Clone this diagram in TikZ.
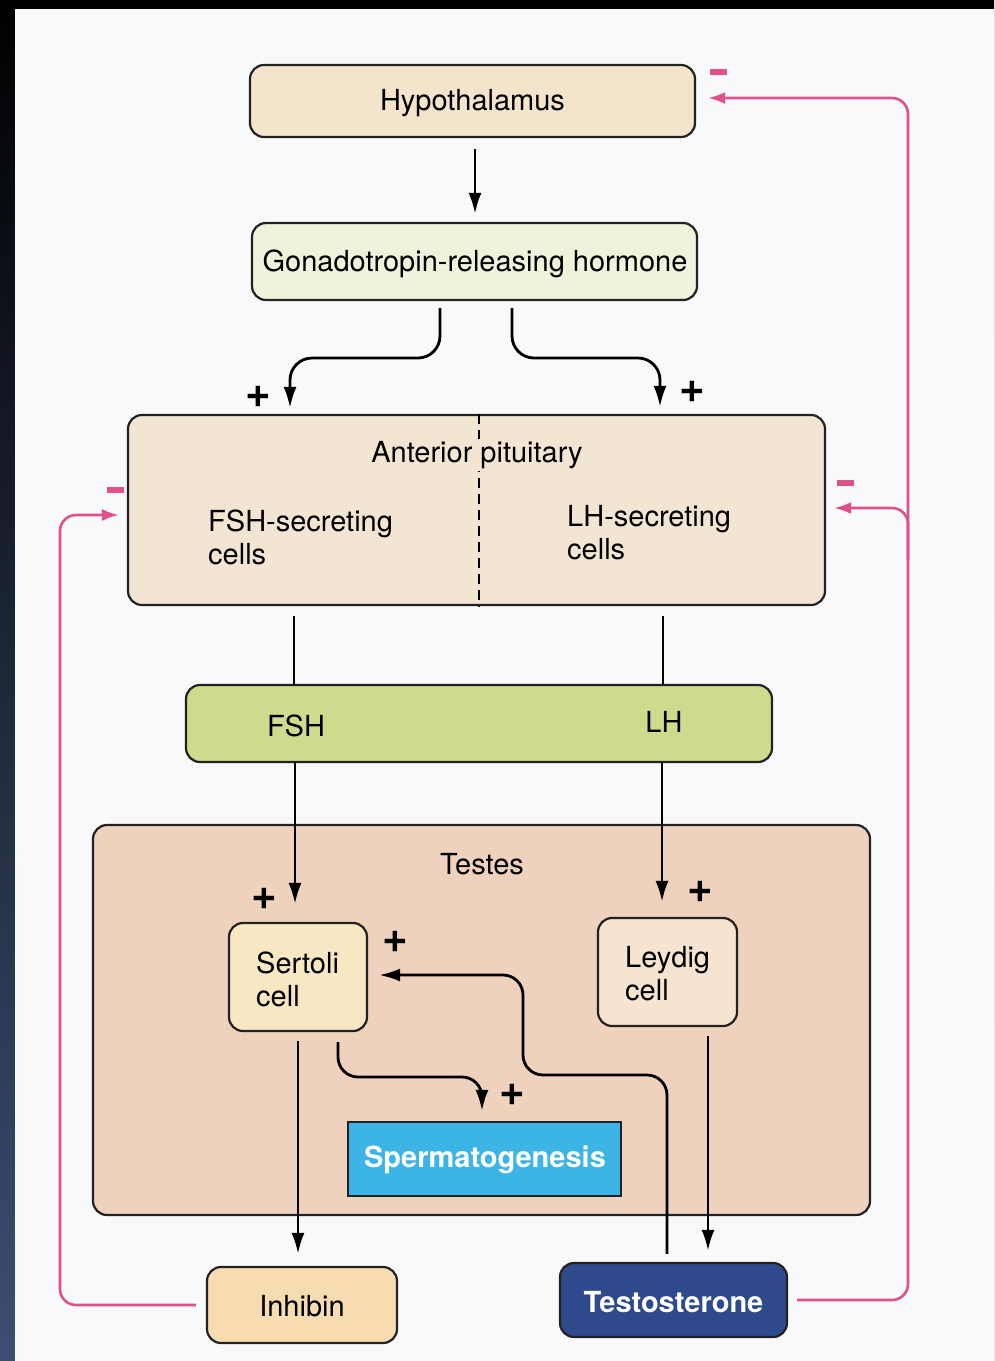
\documentclass[tikz,border=0pt]{standalone}
\usepackage{fontspec}
\setmainfont{TeX Gyre Heros}
\usetikzlibrary{arrows.meta,calc}
\definecolor{pagebg}{HTML}{F8F9FB}
\definecolor{navy}{HTML}{3A4F72}
\definecolor{hypfill}{HTML}{F4E4CC}
\definecolor{gnrhfill}{HTML}{EEF3DC}
\definecolor{pitfill}{HTML}{F2E6D3}
\definecolor{barfill}{HTML}{CDDB8C}
\definecolor{testfill}{HTML}{EFD2BE}
\definecolor{sertfill}{HTML}{F7E7C3}
\definecolor{leyfill}{HTML}{F7E4D0}
\definecolor{spermfill}{HTML}{3CB4E5}
\definecolor{inhfill}{HTML}{F6DCB0}
\definecolor{testofill}{HTML}{2E4A8C}
\definecolor{pinkline}{HTML}{E0508A}
\definecolor{edge}{HTML}{222222}
\tikzset{
  box/.style={draw=edge, line width=2.2pt, rounded corners=14pt, inner sep=0pt},
  lbl/.style={font=\fontsize{29}{33}\selectfont, inner sep=0pt, align=left},
  blbl/.style={font=\fontsize{29}{33}\selectfont\bfseries, text=white, inner sep=0pt},
  arr/.style={-{Latex[length=21pt,width=13pt]}, line width=2.8pt, draw=black},
  plain/.style={line width=2.8pt, draw=black},
  fb/.style={-{Latex[length=17pt,width=12pt]}, line width=2.6pt, draw=pinkline, rounded corners=16pt},
  plus/.style={font=\fontsize{44}{44}\selectfont\bfseries, inner sep=0pt},
  minus/.style={fill=pinkline, minimum width=17pt, minimum height=6pt, inner sep=0pt}
}
\begin{document}
\begin{tikzpicture}[x=1pt,y=-1pt]
\useasboundingbox (0,0) rectangle (994,1361);
\shade[top color=black, bottom color=navy] (0,0) rectangle (994,1361);
\fill[pagebg] (15,9) rectangle (994,1361);

% boxes
\node[box, fill=hypfill, minimum width=445pt, minimum height=72pt] (hyp) at (472.5,101) {};
\node[lbl] (hypt) at (472.5,103) {Hypothalamus};
\node[box, fill=gnrhfill, minimum width=445pt, minimum height=77pt] (gnrh) at (474.5,261.5) {};
\node[lbl] (gnrht) at (475,264) {Gonadotropin-releasing hormone};

\node[box, fill=pitfill, minimum width=697pt, minimum height=190pt] (pit) at (476.5,510) {};
\draw[line width=1.4pt, dash pattern=on 10pt off 6pt] (pit.north -| 479,0) -- (pit.south -| 479,0);
\node[lbl, fill=pitfill, inner sep=2pt] (pitt) at (477,455) {Anterior pituitary};
\node[lbl, anchor=west] (fshc) at (208,537) {FSH-secreting\\cells};
\node[lbl, anchor=west] (lhc) at (567,533) {LH-secreting\\cells};

\node[box, fill=barfill, minimum width=586pt, minimum height=77pt] (bar) at (479,723.5) {};
\node[lbl] (fsht) at (296,726) {FSH};
\node[lbl] (lht) at (664,722) {LH};

\node[box, fill=testfill, minimum width=777pt, minimum height=390pt] (testes) at (481.5,1020) {};
\node[lbl] (testt) at (482,864) {Testes};

\node[box, fill=sertfill, minimum width=138pt, minimum height=108pt] (sert) at (298,977) {};
\node[lbl, anchor=west] (sertt) at (256,979.5) {Sertoli\\cell};
\node[box, fill=leyfill, minimum width=139pt, minimum height=108pt] (ley) at (667.5,972) {};
\node[lbl, anchor=west] (leyt) at (625,973.5) {Leydig\\cell};

\node[draw=edge, line width=2.2pt, fill=spermfill, minimum width=273pt, minimum height=74pt, inner sep=0pt] (sperm) at (484.5,1159) {};
\node[blbl] (spermt) at (485,1160) {Spermatogenesis};

\node[box, fill=inhfill, minimum width=190pt, minimum height=76pt] (inh) at (302,1305) {};
\node[lbl] (inht) at (302,1306) {Inhibin};
\node[box, fill=testofill, minimum width=227pt, minimum height=74pt] (testo) at (673.5,1300) {};
\node[blbl] (testot) at (673.5,1302) {Testosterone};

% black connectors
\draw[arr, shorten <=11pt, shorten >=8pt] (hyp.south -| 475,0) -- (gnrh.north -| 475,0);
\draw[arr, rounded corners=22pt, shorten <=7pt, shorten >=6pt] (gnrh.south -| 440,0) -- (440,358) -- (290,358) -- (pit.north -| 290,0);
\draw[arr, rounded corners=22pt, shorten <=7pt, shorten >=7pt] (gnrh.south -| 512,0) -- (512,358) -- (660,358) -- (pit.north -| 660,0);
\draw[plain, shorten <=10pt] (pit.south -| 294,0) -- (bar.north -| 294,0);
\draw[plain, shorten <=10pt] (pit.south -| 663,0) -- (bar.north -| 663,0);
\draw[arr, shorten >=18pt] (bar.south -| 295,0) -- (sert.north -| 295,0);
\draw[arr, shorten >=15pt] (bar.south -| 662,0) -- (ley.north -| 662,0);
\draw[arr, shorten <=9pt, shorten >=12pt] (sert.south -| 298,0) -- (inh.north -| 298,0);
\draw[arr, shorten <=9pt, shorten >=11pt] (ley.south -| 708,0) -- (testo.north -| 708,0);
\draw[arr, rounded corners=20pt, shorten <=8pt, shorten >=11pt] (testo.north -| 667,0) -- (667,1075) -- (523,1075) -- (523,975) -- (sert.east |- 0,975);
\draw[arr, rounded corners=20pt, shorten <=10pt, shorten >=10pt] (sert.south -| 338,0) -- (338,1077) -- (482,1077) -- (sperm.north -| 482,0);

% pink feedback
\draw[fb, shorten <=10pt, shorten >=8pt] (inh.west) -- (60,1305) -- (60,515) -- (pit.west |- 0,515);
\draw[fb, shorten <=9pt, shorten >=12pt] (testo.east) -- (908,1300) -- (908,98) -- (hyp.east |- 0,98);
\coordinate (br) at (908,560);
\draw[fb, shorten >=8pt] (br) -- (908,508) -- (pit.east |- 0,508);

% signs
\node[plus] (p1) at (258,397) {+};
\node[plus] (p2) at (692,392) {+};
\node[plus] (p3) at (264,899) {+};
\node[plus] (p4) at (700,892) {+};
\node[plus] (p5) at (395,942) {+};
\node[plus] (p6) at (512,1095) {+};
\node[minus] (m1) at (115,490) {};
\node[minus] (m2) at (718,72) {};
\node[minus] (m3) at (845,483) {};
\end{tikzpicture}
\end{document}
